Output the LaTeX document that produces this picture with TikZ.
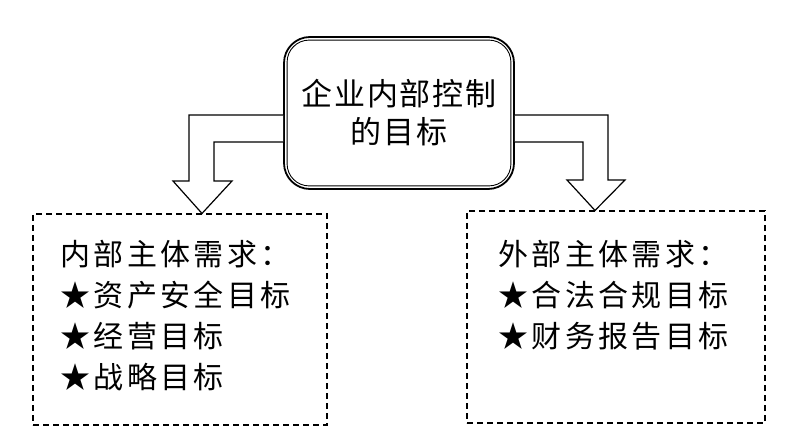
\documentclass[tikz,border=0pt]{standalone}
\usepackage{fontspec}
\newfontfamily\cjk[LetterSpace=6]{Noto Sans CJK SC}
\newfontfamily\cjkwide[LetterSpace=11]{Noto Sans CJK SC}
\usetikzlibrary{calc}

\tikzset{
  goalbox/.style={draw, line width=1.8pt, rounded corners=26pt,
    minimum width=230pt, minimum height=152pt, inner sep=0pt, align=center,
    font=\cjk\fontsize{31}{38}\selectfont},
  needbox/.style={draw, line width=1.1pt, dash pattern=on 6pt off 4pt, inner sep=0pt},
  needtext/.style={anchor=north west, inner sep=0pt, align=left,
    font=\cjkwide\fontsize{30}{41}\selectfont},
  hollow/.style={line width=1.2pt, line join=miter, fill=white}
}

\begin{document}
\begin{tikzpicture}[x=1pt,y=-1pt]

  \fill[white] (0,0) rectangle (802,446);

  % goal in the middle
  \node[goalbox] (goal) at (399,113) {企业内部控制\\的目标};
  \draw[line width=0.9pt, rounded corners=22pt]
    ($(goal.north west)+(4,4)$) rectangle ($(goal.south east)+(-4,-4)$);

  % the two needs
  \node[needbox, minimum width=294pt, minimum height=211pt] (inner) at (180,319.5) {};
  \node[needbox, minimum width=298pt, minimum height=212pt] (outer) at (616,317) {};

  \node[needtext] (innertext) at ($(inner.north west)+(28,27)$)
    {内部主体需求：\\★资产安全目标\\★经营目标\\★战略目标};
  \node[needtext] (outertext) at ($(outer.north west)+(32,30)$)
    {外部主体需求：\\★合法合规目标\\★财务报告目标};

  % hollow arrows
  \draw[hollow] (goal.west |- 0,115) -- (189,115) -- (189,181) -- (173,181)
    -- (inner.north -| 202,0) -- (232,181) -- (214,181) -- (214,142)
    -- (goal.west |- 0,142);
  \draw[hollow] (goal.east |- 0,115) -- (608,115) -- (608,180) -- (625,180)
    -- (outer.north -| 595,0) -- (567,180) -- (583,180) -- (583,142)
    -- (goal.east |- 0,142);

\end{tikzpicture}
\end{document}
